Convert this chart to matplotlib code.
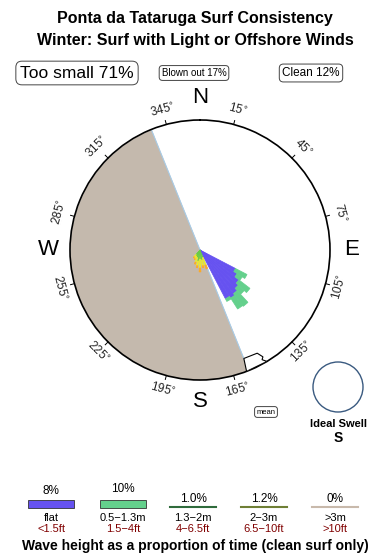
import matplotlib
matplotlib.use("Agg")
import matplotlib.pyplot as plt
import numpy as np

plt.rcParams['font.family'] = ['Liberation Sans', 'DejaVu Sans']

# --- data ---
title_lines = ["Ponta da Tataruga Surf Consistency", "Winter: Surf with Light or Offshore Winds"]
summary = ["Too small 71%", "Blown out 17%", "Clean 12%"]

# offshore/blown sector (bearings, deg)
sector_start = 158
sector_end = 338

# main rose, 5 degree bins
rose_dirs = [120, 125, 130, 135, 140, 145, 150]
rose_blue = [40, 44, 49, 52, 55, 57, 55]
rose_green = [13, 6, 14, 8, 16, 13, 3]

# small bits near the centre
small_dirs = [160, 170, 180, 190, 200, 210, 220]
small_green = [8, 10, 9, 11, 8, 7, 6]
small_yellow = [8, 6, 9, 5, 5, 3, 3]
small_orange = [4, 2, 4, 2, 2, 1, 1]

mean_dir = 154
tick_dirs = [15, 45, 75, 105, 135, 165, 195, 225, 255, 285, 315, 345]
cardinals = ["N", "E", "S", "W"]

legend_pct = ["8%", "10%", "1.0%", "1.2%", "0%"]
legend_m = ["flat", "0.5\u22121.3m", "1.3\u22122m", "2\u22123m", ">3m"]
legend_ft = ["<1.5ft", "1.5\u22124ft", "4\u22126.5ft", "6.5\u221210ft", ">10ft"]
legend_colors = ["#6652f0", "#64d08c", "#2f6b3c", "#6f7f35", "#c8b9ab"]

W, H = 390, 560
fig = plt.figure(figsize=(W / 100, H / 100), dpi=100)


def px(x, y):
    return x / W, 1 - y / H


# titles
fig.text(*px(195, 18), title_lines[0], ha="center", va="center", fontsize=11.5, weight="bold")
fig.text(*px(195, 41), title_lines[1], ha="center", va="center", fontsize=11.5, weight="bold")

box = dict(boxstyle="round,pad=0.25,rounding_size=0.35", fc="white", ec="#444444", lw=0.7)
fig.text(*px(77, 73), summary[0], ha="center", va="center", fontsize=12.5, bbox=box)
fig.text(*px(194, 73), summary[1], ha="center", va="center", fontsize=7, bbox=box)
fig.text(*px(311, 73), summary[2], ha="center", va="center", fontsize=8.5, bbox=box)

# polar rose, centre (200,250) radius 130 px
cx, cy, R = 200, 250, 130
ax = fig.add_axes([(cx - R) / W, (H - cy - R) / H, 2 * R / W, 2 * R / H], projection="polar")
ax.set_theta_zero_location("N")
ax.set_theta_direction(-1)
ax.set_ylim(0, R)
ax.grid(False)
ax.set_xticks([])
ax.set_yticks([])
ax.spines["polar"].set_linewidth(1.2)
ax.spines["polar"].set_color("black")

th = np.radians(np.linspace(sector_start, sector_end, 200))
ax.fill_between(th, 0, R, color="#c4b9ad", lw=0, zorder=1)
ax.plot([np.radians(sector_start), 0, np.radians(sector_end)], [R, 0, R], color="#a8cce8", lw=0.8, zorder=2)

bw = np.radians(5)
ax.bar(np.radians(rose_dirs), rose_blue, width=bw, color=legend_colors[0], ec=legend_colors[0], lw=0.5, zorder=3)
ax.bar(np.radians(rose_dirs), rose_green, width=bw, bottom=rose_blue, color=legend_colors[1],
       ec=legend_colors[1], lw=0.5, zorder=3)

sb = np.array(small_green)
sy = np.array(small_yellow)
ax.bar(np.radians(small_dirs), small_green, width=bw, color="#66cc44", ec="#66cc44", lw=0.4, zorder=3)
ax.bar(np.radians(small_dirs), small_yellow, width=bw, bottom=sb, color="#eeee22", ec="#eeee22", lw=0.4, zorder=3)
ax.bar(np.radians(small_dirs), small_orange, width=bw, bottom=sb + sy, color="#ffaa22", ec="#ffaa22", lw=0.4,
       zorder=3)

# mean direction marker
m = np.radians(mean_dir)
mk_t = [m + np.radians(5), m + np.radians(4), m - np.radians(3), m - np.radians(4.5), m - np.radians(3.5),
        m - np.radians(5)]
mk_r = [R, R - 13, R - 12, R - 6, R - 4, R]
ax.fill(mk_t, mk_r, fc="white", ec="black", lw=0.8, zorder=4)

# ticks and labels
for d in tick_dirs:
    t = np.radians(d)
    ax.plot([t, t], [R, R + 4], color="black", lw=0.7, clip_on=False)
    rot = -d
    while rot < -90:
        rot += 180
    while rot > 90:
        rot -= 180
    ax.text(t, R + 15, r"%d$^{\circ}$" % d, rotation=rot, ha="center", va="center",
            fontsize=8.5, color="#222222", rotation_mode="anchor")

for i, c in enumerate(cardinals):
    ax.text(np.radians(90 * i), R + 22, c, ha="center", va="center", fontsize=16)

# mean label and ideal swell
fig.text(*px(266, 412), "mean", ha="center", va="center", fontsize=5.5, bbox=box)
ax2 = fig.add_axes([0, 0, 1, 1], facecolor="none")
ax2.set_xlim(0, W)
ax2.set_ylim(H, 0)
ax2.axis("off")
ax2.add_patch(plt.Circle((338, 387), 25, fill=False, ec="#3a5a80", lw=1))
fig.text(*px(338, 424), "Ideal Swell", ha="center", va="center", fontsize=8, weight="bold")
fig.text(*px(338, 438), "S", ha="center", va="center", fontsize=10, weight="bold")

# legend
centers = [51, 123, 193, 264, 335]
for i in range(5):
    x = centers[i]
    if i < 2:
        ax2.add_patch(plt.Rectangle((x - 23, 500), 46, 8, fc=legend_colors[i], ec="#333333", lw=0.6))
        ty = 491 if i == 0 else 489
    else:
        ax2.plot([x - 23, x + 23], [507, 507], color=legend_colors[i], lw=1.5)
        ty = 499
    fig.text(*px(x, ty), legend_pct[i], ha="center", va="center", fontsize=8.5)
    fig.text(*px(x, 518), legend_m[i], ha="center", va="center", fontsize=8)
    fig.text(*px(x, 529), legend_ft[i], ha="center", va="center", fontsize=8, color="#800000")

fig.text(*px(195, 546), "Wave height as a proportion of time (clean surf only)", ha="center", va="center",
         fontsize=10, weight="bold")

fig.savefig("out.png", dpi=100)
